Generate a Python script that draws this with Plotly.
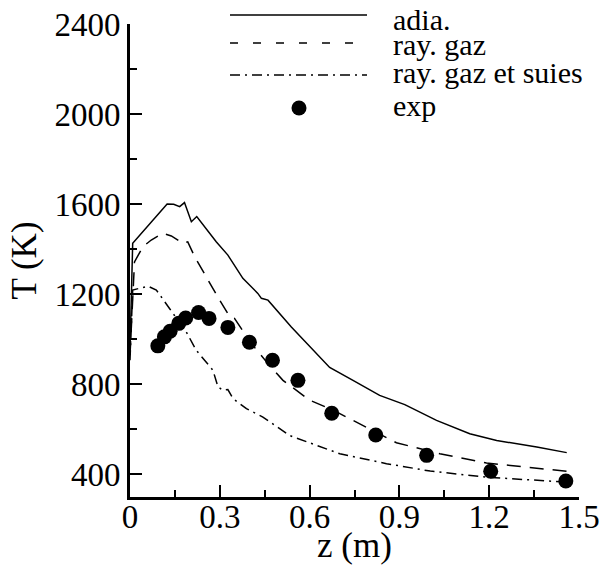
import plotly.graph_objects as go

# adia. (solid)
z_adia = [0.0, 0.009, 0.124, 0.146, 0.166, 0.182, 0.205, 0.223, 0.288, 0.327, 0.377, 0.427, 0.439, 0.461,
          0.539, 0.667, 0.745, 0.834, 0.918, 1.024, 1.135, 1.225, 1.359, 1.459]
T_adia = [952, 1426, 1601, 1600, 1589, 1607, 1522, 1545, 1433, 1374, 1271, 1204, 1182, 1174,
          1055, 875, 818, 751, 710, 640, 581, 551, 522, 497]

# ray. gaz (dashed)
z_gaz = [0.0, 0.015, 0.043, 0.071, 0.110, 0.138, 0.177, 0.193, 0.216, 0.260, 0.299, 0.333, 0.349,
         0.405, 0.456, 0.511, 0.600, 0.678, 0.768, 0.890, 1.035, 1.191, 1.459]
T_gaz = [930, 1344, 1411, 1441, 1471, 1459, 1426, 1433, 1367, 1264, 1175, 1101, 1093,
         982, 900, 818, 730, 686, 626, 541, 492, 451, 414]

# ray. gaz et suies (dash-dot)
z_suies = [0.0, 0.009, 0.060, 0.088, 0.132, 0.188, 0.221, 0.266, 0.277, 0.294, 0.310, 0.327, 0.344,
           0.389, 0.444, 0.533, 0.701, 0.857, 1.003, 1.191, 1.459]
T_suies = [907, 1219, 1236, 1219, 1137, 1033, 952, 878, 863, 789, 774, 777, 737,
           692, 655, 573, 492, 448, 415, 388, 366]

# exp (markers)
z_exp = [0.093, 0.115, 0.134, 0.163, 0.186, 0.229, 0.264, 0.327, 0.399, 0.476, 0.561, 0.674,
         0.821, 0.991, 1.205, 1.456]
T_exp = [971, 1011, 1036, 1071, 1095, 1119, 1093, 1053, 987, 907, 818, 672, 575, 485, 414, 371]

legend_labels = ["adia.", "ray. gaz", "ray. gaz et suies", "exp"]

FONT = "Liberation Serif"
DASH = "14px,9px"
DASH_LEG = "8px,15px"
DASHDOT = "10px,5px,2px,5px"

fig = go.Figure()
fig.add_trace(go.Scatter(x=z_adia, y=T_adia, mode="lines", line=dict(color="black", width=1.5),
                         name=legend_labels[0]))
fig.add_trace(go.Scatter(x=z_gaz, y=T_gaz, mode="lines", line=dict(color="black", width=1.5, dash=DASH),
                         name=legend_labels[1]))
fig.add_trace(go.Scatter(x=z_suies, y=T_suies, mode="lines",
                         line=dict(color="black", width=1.5, dash=DASHDOT), name=legend_labels[2]))
fig.add_trace(go.Scatter(x=z_exp, y=T_exp, mode="markers", marker=dict(color="black", size=15),
                         name=legend_labels[3]))

# custom legend (paper coordinates)
PL, PW, PT, PH = 130, 449, 24, 473


def px2x(px):
    return (px - PL) / PW


def py2y(py):
    return (PT + PH - py) / PH


rows_line = [15, 43, 75]
dashes = ["solid", DASH_LEG, DASHDOT]
for yy, d in zip(rows_line, dashes):
    fig.add_shape(type="line", xref="paper", yref="paper", x0=px2x(230), x1=px2x(367),
                  y0=py2y(yy), y1=py2y(yy), line=dict(color="black", width=1.5, dash=d))
fig.add_trace(go.Scatter(x=[px2x(299)], y=[py2y(108)], xaxis="x2", yaxis="y2", mode="markers",
                         marker=dict(color="black", size=15), showlegend=False, hoverinfo="skip",
                         cliponaxis=False))

text_rows = [20, 44, 72, 106]
for lab, yy in zip(legend_labels, text_rows):
    fig.add_annotation(x=px2x(391), y=py2y(yy), xref="paper", yref="paper", text=lab,
                       showarrow=False, xanchor="left", yanchor="middle",
                       font=dict(family=FONT, size=30, color="black"))

axis_common = dict(showline=True, linecolor="black", linewidth=3, showgrid=False, zeroline=False,
                   ticks="inside", ticklen=12, tickwidth=2, tickcolor="black", automargin=False,
                   tickfont=dict(family=FONT, size=33, color="black"))

fig.update_layout(
    width=601, height=565,
    margin=dict(l=PL, r=601 - PL - PW, t=PT, b=565 - PT - PH),
    paper_bgcolor="white", plot_bgcolor="white",
    showlegend=False,
    font=dict(family=FONT, color="black"),
    xaxis=dict(range=[0, 1.5], tick0=0, dtick=0.3, ticklabelstandoff=-12,
               minor=dict(ticks="inside", ticklen=7, tickwidth=1.5, tickcolor="black", dtick=0.15),
               title=dict(text="z (m)", font=dict(family=FONT, size=35, color="black"), standoff=12),
               **axis_common),
    yaxis=dict(range=[300, 2400], tick0=0, dtick=400,
               minor=dict(ticks="inside", ticklen=7, tickwidth=1.5, tickcolor="black", dtick=200),
               title=dict(text="T (K)", font=dict(family=FONT, size=35, color="black"), standoff=8),
               **axis_common),
    xaxis2=dict(range=[0, 1], overlaying="x", visible=False, fixedrange=True),
    yaxis2=dict(range=[0, 1], overlaying="y", visible=False, fixedrange=True),
)

fig.write_html("out.html", config={"displayModeBar": False})
with open("out.html", encoding="utf-8") as fh:
    html = fh.read()
html = html.replace("<head>", "<head><style>html,body{margin:0;padding:0;overflow:hidden;}</style>", 1)
with open("out.html", "w", encoding="utf-8") as fh:
    fh.write(html)
